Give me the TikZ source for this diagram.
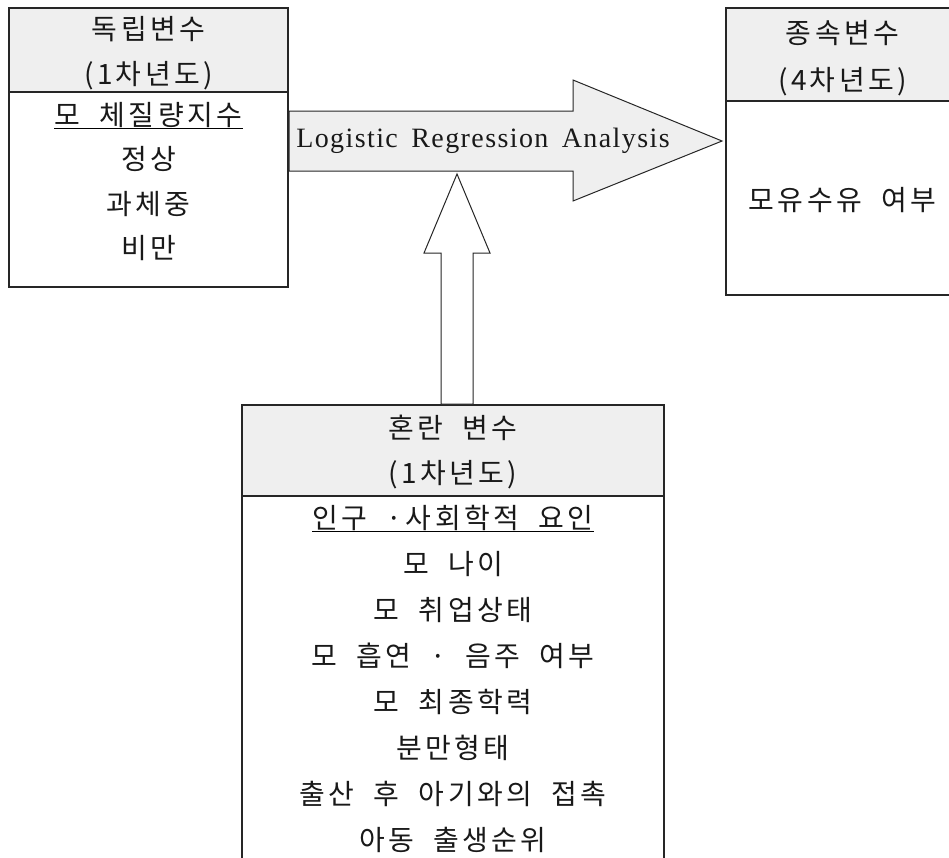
\documentclass[tikz,border=0pt]{standalone}
\usepackage{fontspec}
\setmainfont[LetterSpace=12,WordSpace=2]{Noto Sans CJK KR}
\newfontfamily\engfont[LetterSpace=5,WordSpace=1.6]{Liberation Serif}
\usetikzlibrary{positioning}
\definecolor{hdgray}{HTML}{EFEFEF}

\begin{document}
\begin{tikzpicture}[x=1pt,y=-1pt,line width=1.2pt,
                    font=\fontsize{28}{32}\selectfont]
  \tikzstyle{box}=[draw=black!85,fill=white,inner sep=0pt]
  \tikzstyle{hdr}=[draw=black!85,fill=hdgray,inner sep=0pt]
  \tikzstyle{row}=[inner sep=0pt,text=black!90]
  \tikzstyle{blk}=[draw=black!85,line width=1pt,line join=miter]

  \useasboundingbox (0,0) rectangle (949,857);
  \clip (0,0) rectangle (949,857);

  % independent variable
  \node[box,minimum width=279pt,minimum height=279pt] (indep) at (148.5,147.5) {};
  \node[hdr,minimum width=279pt,minimum height=84pt]  (indephd) at (148.5,50) {};
  \node[row] (i1) at (148.5,29) {독립변수};
  \node[row] (i2) at (148.5,76) {(1차년도)};
  \node[row] (i3) at (148.5,115) {모 체질량지수};
  \node[row] (i4) at (148.5,159) {정상};
  \node[row] (i5) at (148.5,204) {과체중};
  \node[row] (i6) at (148.5,248) {비만};
  \draw[line width=1pt] (i3.south west) -- (i3.south east);

  % dependent variable
  \node[box,minimum width=233pt,minimum height=287pt] (dep) at (842.5,151.5) {};
  \node[hdr,minimum width=233pt,minimum height=93pt]  (dephd) at (842.5,54.5) {};
  \node[row] (d1) at (842.5,33) {종속변수};
  \node[row] (d2) at (842.5,82) {(4차년도)};
  \node[row] (d3) at (842.5,200) {모유수유 여부};

  % confounders
  \node[box,minimum width=422pt,minimum height=495pt] (conf) at (453,652.5) {};
  \node[hdr,minimum width=422pt,minimum height=91pt]  (confhd) at (453,450.5) {};
  \node[row] (c1) at (453,428) {혼란 변수};
  \node[row] (c2) at (453,475) {(1차년도)};
  \foreach \txt [count=\k from 0] in {인구 ·사회학적 요인,모 나이,모 취업상태,
      모 흡연 · 음주 여부,모 최종학력,분만형태,출산 후 아기와의 접촉,아동 출생순위}
    \node[row] (r\k) at (453,{518+46*\k}) {\txt};
  \draw[line width=1pt] (r0.south west) -- (r0.south east);

  % arrows
  \draw[blk,fill=hdgray] (289,111) -- (573,111) -- (573,80) -- (722,141)
        -- (573,201) -- (573,171) -- (289,171) -- cycle;
  \node[row,font=\engfont\fontsize{28}{32}\selectfont] (lra) at (483,141)
        {Logistic Regression Analysis};
  \draw[blk,fill=white] (441,404) -- (441,253) -- (424,253) -- (457,174)
        -- (490,253) -- (473,253) -- (473,404) -- cycle;
\end{tikzpicture}
\end{document}
